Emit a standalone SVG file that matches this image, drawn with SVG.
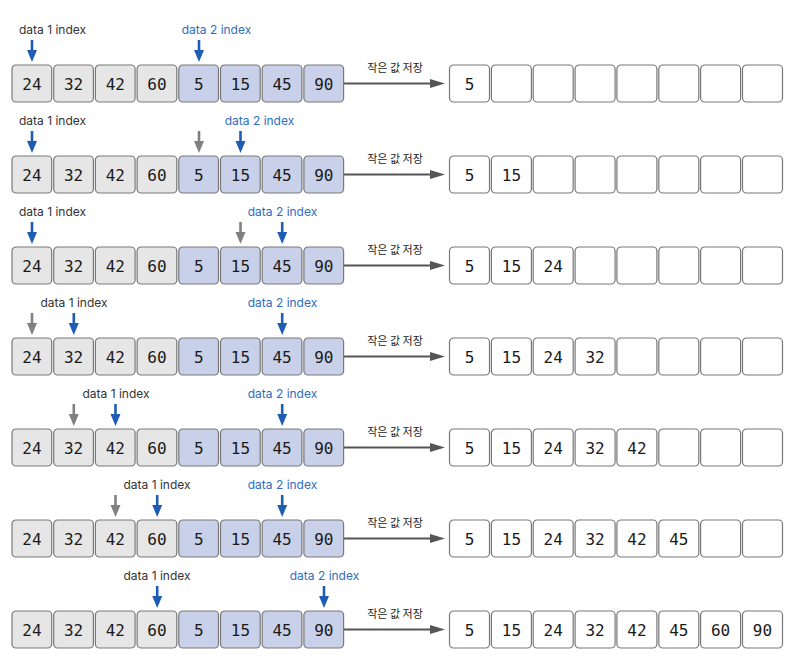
<svg xmlns="http://www.w3.org/2000/svg" xmlns:xlink="http://www.w3.org/1999/xlink" width="802" height="666" viewBox="0 0 802 666">
<style>
.g{fill:#e6e6e6;stroke:#787878;stroke-width:1.2}
.b{fill:#c9d0e9;stroke:#787878;stroke-width:1.2}
.w{fill:#ffffff;stroke:#787878;stroke-width:1.2}
.n{font-family:"DejaVu Sans Mono",monospace;font-size:16px;fill:#1a1a1a;text-anchor:middle}
.l1{font-family:"Inter","Noto Sans",sans-serif;font-size:12px;fill:#333;text-anchor:middle}
.l2{font-family:"Inter","Noto Sans",sans-serif;font-size:12px;fill:#2f6bc2;text-anchor:middle}
.k{font-family:"Noto Sans CJK KR","Noto Sans",sans-serif;font-size:11px;fill:#222;text-anchor:middle}
.ml{stroke:#555;stroke-width:2;fill:none}
.mh{fill:#555}
.ba{fill:#1f5db5}
.ga{fill:#808080}
</style>
<defs>
<path id="arr" d="M-1.3,0 H1.3 V10 H5 L0,22 L-5,10 H-1.3 Z"/>
<g id="flow">
<line class="ml" x1="344" y1="0" x2="432" y2="0"/>
<polygon class="mh" points="430,-4.5 445,0 430,4.5"/>
</g>
</defs>

<!-- connectors -->
<g id="connectors">
<g transform="translate(0,83.5)"><use xlink:href="#flow"/></g>
<g transform="translate(0,174.5)"><use xlink:href="#flow"/></g>
<g transform="translate(0,265.5)"><use xlink:href="#flow"/></g>
<g transform="translate(0,356.5)"><use xlink:href="#flow"/></g>
<g transform="translate(0,447.5)"><use xlink:href="#flow"/></g>
<g transform="translate(0,538.5)"><use xlink:href="#flow"/></g>
<g transform="translate(0,629.5)"><use xlink:href="#flow"/></g>
</g>

<g id="flow-labels">
<text class="k" x="395" y="72">작은 값 저장</text>
<text class="k" x="395" y="163">작은 값 저장</text>
<text class="k" x="395" y="254">작은 값 저장</text>
<text class="k" x="395" y="345">작은 값 저장</text>
<text class="k" x="395" y="436">작은 값 저장</text>
<text class="k" x="395" y="527">작은 값 저장</text>
<text class="k" x="395" y="618">작은 값 저장</text>
</g>

<!-- pointers -->
<g id="pointers">
<!-- row 1 -->
<use xlink:href="#arr" class="ba" x="32" y="40"/>
<use xlink:href="#arr" class="ba" x="199" y="40"/>
<text class="l1" x="52.5" y="34">data 1 index</text>
<text class="l2" x="216.5" y="34">data 2 index</text>
<!-- row 2 -->
<use xlink:href="#arr" class="ba" x="32" y="131"/>
<use xlink:href="#arr" class="ga" x="199" y="131"/>
<use xlink:href="#arr" class="ba" x="240.5" y="131"/>
<text class="l1" x="52.5" y="125">data 1 index</text>
<text class="l2" x="259.5" y="125">data 2 index</text>
<!-- row 3 -->
<use xlink:href="#arr" class="ba" x="32" y="222"/>
<use xlink:href="#arr" class="ga" x="240.5" y="222"/>
<use xlink:href="#arr" class="ba" x="282.2" y="222"/>
<text class="l1" x="52.5" y="216">data 1 index</text>
<text class="l2" x="282.5" y="216">data 2 index</text>
<!-- row 4 -->
<use xlink:href="#arr" class="ga" x="32" y="313"/>
<use xlink:href="#arr" class="ba" x="73.8" y="313"/>
<use xlink:href="#arr" class="ba" x="282.2" y="313"/>
<text class="l1" x="74" y="307">data 1 index</text>
<text class="l2" x="282.5" y="307">data 2 index</text>
<!-- row 5 -->
<use xlink:href="#arr" class="ga" x="73.8" y="404"/>
<use xlink:href="#arr" class="ba" x="115.5" y="404"/>
<use xlink:href="#arr" class="ba" x="282.2" y="404"/>
<text class="l1" x="116" y="398">data 1 index</text>
<text class="l2" x="282.5" y="398">data 2 index</text>
<!-- row 6 -->
<use xlink:href="#arr" class="ga" x="115.5" y="495"/>
<use xlink:href="#arr" class="ba" x="157.2" y="495"/>
<use xlink:href="#arr" class="ba" x="282.2" y="495"/>
<text class="l1" x="157" y="489">data 1 index</text>
<text class="l2" x="282.5" y="489">data 2 index</text>
<!-- row 7 -->
<use xlink:href="#arr" class="ba" x="157.2" y="586"/>
<use xlink:href="#arr" class="ba" x="324" y="586"/>
<text class="l1" x="157" y="580">data 1 index</text>
<text class="l2" x="324.5" y="580">data 2 index</text>
</g>

<!-- rows of nodes -->
<g id="row1" transform="translate(0,65)">
<g id="r1-in">
<g id="r1a0"><rect class="g" x="12" y="0" width="39.7" height="37" rx="4"/><text class="n" x="31.9" y="24.8">24</text></g>
<g id="r1a1"><rect class="g" x="53.7" y="0" width="39.7" height="37" rx="4"/><text class="n" x="73.6" y="24.8">32</text></g>
<g id="r1a2"><rect class="g" x="95.4" y="0" width="39.7" height="37" rx="4"/><text class="n" x="115.3" y="24.8">42</text></g>
<g id="r1a3"><rect class="g" x="137.1" y="0" width="39.7" height="37" rx="4"/><text class="n" x="157" y="24.8">60</text></g>
<g id="r1a4"><rect class="b" x="178.8" y="0" width="39.7" height="37" rx="4"/><text class="n" x="198.7" y="24.8">5</text></g>
<g id="r1a5"><rect class="b" x="220.5" y="0" width="39.7" height="37" rx="4"/><text class="n" x="240.4" y="24.8">15</text></g>
<g id="r1a6"><rect class="b" x="262.2" y="0" width="39.7" height="37" rx="4"/><text class="n" x="282.1" y="24.8">45</text></g>
<g id="r1a7"><rect class="b" x="303.9" y="0" width="39.7" height="37" rx="4"/><text class="n" x="323.8" y="24.8">90</text></g>
</g>
<g id="r1-out">
<g id="r1o0"><rect class="w" x="449.5" y="0" width="40" height="37" rx="4"/><text class="n" x="469.5" y="24.8">5</text></g>
<g id="r1o1"><rect class="w" x="491.4" y="0" width="40" height="37" rx="4"/></g>
<g id="r1o2"><rect class="w" x="533.2" y="0" width="40" height="37" rx="4"/></g>
<g id="r1o3"><rect class="w" x="575.1" y="0" width="40" height="37" rx="4"/></g>
<g id="r1o4"><rect class="w" x="616.9" y="0" width="40" height="37" rx="4"/></g>
<g id="r1o5"><rect class="w" x="658.8" y="0" width="40" height="37" rx="4"/></g>
<g id="r1o6"><rect class="w" x="700.6" y="0" width="40" height="37" rx="4"/></g>
<g id="r1o7"><rect class="w" x="742.5" y="0" width="40" height="37" rx="4"/></g>
</g>
</g>

<g id="row2" transform="translate(0,156)">
<g id="r2-in">
<g id="r2a0"><rect class="g" x="12" y="0" width="39.7" height="37" rx="4"/><text class="n" x="31.9" y="24.8">24</text></g>
<g id="r2a1"><rect class="g" x="53.7" y="0" width="39.7" height="37" rx="4"/><text class="n" x="73.6" y="24.8">32</text></g>
<g id="r2a2"><rect class="g" x="95.4" y="0" width="39.7" height="37" rx="4"/><text class="n" x="115.3" y="24.8">42</text></g>
<g id="r2a3"><rect class="g" x="137.1" y="0" width="39.7" height="37" rx="4"/><text class="n" x="157" y="24.8">60</text></g>
<g id="r2a4"><rect class="b" x="178.8" y="0" width="39.7" height="37" rx="4"/><text class="n" x="198.7" y="24.8">5</text></g>
<g id="r2a5"><rect class="b" x="220.5" y="0" width="39.7" height="37" rx="4"/><text class="n" x="240.4" y="24.8">15</text></g>
<g id="r2a6"><rect class="b" x="262.2" y="0" width="39.7" height="37" rx="4"/><text class="n" x="282.1" y="24.8">45</text></g>
<g id="r2a7"><rect class="b" x="303.9" y="0" width="39.7" height="37" rx="4"/><text class="n" x="323.8" y="24.8">90</text></g>
</g>
<g id="r2-out">
<g id="r2o0"><rect class="w" x="449.5" y="0" width="40" height="37" rx="4"/><text class="n" x="469.5" y="24.8">5</text></g>
<g id="r2o1"><rect class="w" x="491.4" y="0" width="40" height="37" rx="4"/><text class="n" x="511.4" y="24.8">15</text></g>
<g id="r2o2"><rect class="w" x="533.2" y="0" width="40" height="37" rx="4"/></g>
<g id="r2o3"><rect class="w" x="575.1" y="0" width="40" height="37" rx="4"/></g>
<g id="r2o4"><rect class="w" x="616.9" y="0" width="40" height="37" rx="4"/></g>
<g id="r2o5"><rect class="w" x="658.8" y="0" width="40" height="37" rx="4"/></g>
<g id="r2o6"><rect class="w" x="700.6" y="0" width="40" height="37" rx="4"/></g>
<g id="r2o7"><rect class="w" x="742.5" y="0" width="40" height="37" rx="4"/></g>
</g>
</g>

<g id="row3" transform="translate(0,247)">
<g id="r3-in">
<g id="r3a0"><rect class="g" x="12" y="0" width="39.7" height="37" rx="4"/><text class="n" x="31.9" y="24.8">24</text></g>
<g id="r3a1"><rect class="g" x="53.7" y="0" width="39.7" height="37" rx="4"/><text class="n" x="73.6" y="24.8">32</text></g>
<g id="r3a2"><rect class="g" x="95.4" y="0" width="39.7" height="37" rx="4"/><text class="n" x="115.3" y="24.8">42</text></g>
<g id="r3a3"><rect class="g" x="137.1" y="0" width="39.7" height="37" rx="4"/><text class="n" x="157" y="24.8">60</text></g>
<g id="r3a4"><rect class="b" x="178.8" y="0" width="39.7" height="37" rx="4"/><text class="n" x="198.7" y="24.8">5</text></g>
<g id="r3a5"><rect class="b" x="220.5" y="0" width="39.7" height="37" rx="4"/><text class="n" x="240.4" y="24.8">15</text></g>
<g id="r3a6"><rect class="b" x="262.2" y="0" width="39.7" height="37" rx="4"/><text class="n" x="282.1" y="24.8">45</text></g>
<g id="r3a7"><rect class="b" x="303.9" y="0" width="39.7" height="37" rx="4"/><text class="n" x="323.8" y="24.8">90</text></g>
</g>
<g id="r3-out">
<g id="r3o0"><rect class="w" x="449.5" y="0" width="40" height="37" rx="4"/><text class="n" x="469.5" y="24.8">5</text></g>
<g id="r3o1"><rect class="w" x="491.4" y="0" width="40" height="37" rx="4"/><text class="n" x="511.4" y="24.8">15</text></g>
<g id="r3o2"><rect class="w" x="533.2" y="0" width="40" height="37" rx="4"/><text class="n" x="553.2" y="24.8">24</text></g>
<g id="r3o3"><rect class="w" x="575.1" y="0" width="40" height="37" rx="4"/></g>
<g id="r3o4"><rect class="w" x="616.9" y="0" width="40" height="37" rx="4"/></g>
<g id="r3o5"><rect class="w" x="658.8" y="0" width="40" height="37" rx="4"/></g>
<g id="r3o6"><rect class="w" x="700.6" y="0" width="40" height="37" rx="4"/></g>
<g id="r3o7"><rect class="w" x="742.5" y="0" width="40" height="37" rx="4"/></g>
</g>
</g>

<g id="row4" transform="translate(0,338)">
<g id="r4-in">
<g id="r4a0"><rect class="g" x="12" y="0" width="39.7" height="37" rx="4"/><text class="n" x="31.9" y="24.8">24</text></g>
<g id="r4a1"><rect class="g" x="53.7" y="0" width="39.7" height="37" rx="4"/><text class="n" x="73.6" y="24.8">32</text></g>
<g id="r4a2"><rect class="g" x="95.4" y="0" width="39.7" height="37" rx="4"/><text class="n" x="115.3" y="24.8">42</text></g>
<g id="r4a3"><rect class="g" x="137.1" y="0" width="39.7" height="37" rx="4"/><text class="n" x="157" y="24.8">60</text></g>
<g id="r4a4"><rect class="b" x="178.8" y="0" width="39.7" height="37" rx="4"/><text class="n" x="198.7" y="24.8">5</text></g>
<g id="r4a5"><rect class="b" x="220.5" y="0" width="39.7" height="37" rx="4"/><text class="n" x="240.4" y="24.8">15</text></g>
<g id="r4a6"><rect class="b" x="262.2" y="0" width="39.7" height="37" rx="4"/><text class="n" x="282.1" y="24.8">45</text></g>
<g id="r4a7"><rect class="b" x="303.9" y="0" width="39.7" height="37" rx="4"/><text class="n" x="323.8" y="24.8">90</text></g>
</g>
<g id="r4-out">
<g id="r4o0"><rect class="w" x="449.5" y="0" width="40" height="37" rx="4"/><text class="n" x="469.5" y="24.8">5</text></g>
<g id="r4o1"><rect class="w" x="491.4" y="0" width="40" height="37" rx="4"/><text class="n" x="511.4" y="24.8">15</text></g>
<g id="r4o2"><rect class="w" x="533.2" y="0" width="40" height="37" rx="4"/><text class="n" x="553.2" y="24.8">24</text></g>
<g id="r4o3"><rect class="w" x="575.1" y="0" width="40" height="37" rx="4"/><text class="n" x="595.1" y="24.8">32</text></g>
<g id="r4o4"><rect class="w" x="616.9" y="0" width="40" height="37" rx="4"/></g>
<g id="r4o5"><rect class="w" x="658.8" y="0" width="40" height="37" rx="4"/></g>
<g id="r4o6"><rect class="w" x="700.6" y="0" width="40" height="37" rx="4"/></g>
<g id="r4o7"><rect class="w" x="742.5" y="0" width="40" height="37" rx="4"/></g>
</g>
</g>

<g id="row5" transform="translate(0,429)">
<g id="r5-in">
<g id="r5a0"><rect class="g" x="12" y="0" width="39.7" height="37" rx="4"/><text class="n" x="31.9" y="24.8">24</text></g>
<g id="r5a1"><rect class="g" x="53.7" y="0" width="39.7" height="37" rx="4"/><text class="n" x="73.6" y="24.8">32</text></g>
<g id="r5a2"><rect class="g" x="95.4" y="0" width="39.7" height="37" rx="4"/><text class="n" x="115.3" y="24.8">42</text></g>
<g id="r5a3"><rect class="g" x="137.1" y="0" width="39.7" height="37" rx="4"/><text class="n" x="157" y="24.8">60</text></g>
<g id="r5a4"><rect class="b" x="178.8" y="0" width="39.7" height="37" rx="4"/><text class="n" x="198.7" y="24.8">5</text></g>
<g id="r5a5"><rect class="b" x="220.5" y="0" width="39.7" height="37" rx="4"/><text class="n" x="240.4" y="24.8">15</text></g>
<g id="r5a6"><rect class="b" x="262.2" y="0" width="39.7" height="37" rx="4"/><text class="n" x="282.1" y="24.8">45</text></g>
<g id="r5a7"><rect class="b" x="303.9" y="0" width="39.7" height="37" rx="4"/><text class="n" x="323.8" y="24.8">90</text></g>
</g>
<g id="r5-out">
<g id="r5o0"><rect class="w" x="449.5" y="0" width="40" height="37" rx="4"/><text class="n" x="469.5" y="24.8">5</text></g>
<g id="r5o1"><rect class="w" x="491.4" y="0" width="40" height="37" rx="4"/><text class="n" x="511.4" y="24.8">15</text></g>
<g id="r5o2"><rect class="w" x="533.2" y="0" width="40" height="37" rx="4"/><text class="n" x="553.2" y="24.8">24</text></g>
<g id="r5o3"><rect class="w" x="575.1" y="0" width="40" height="37" rx="4"/><text class="n" x="595.1" y="24.8">32</text></g>
<g id="r5o4"><rect class="w" x="616.9" y="0" width="40" height="37" rx="4"/><text class="n" x="636.9" y="24.8">42</text></g>
<g id="r5o5"><rect class="w" x="658.8" y="0" width="40" height="37" rx="4"/></g>
<g id="r5o6"><rect class="w" x="700.6" y="0" width="40" height="37" rx="4"/></g>
<g id="r5o7"><rect class="w" x="742.5" y="0" width="40" height="37" rx="4"/></g>
</g>
</g>

<g id="row6" transform="translate(0,520)">
<g id="r6-in">
<g id="r6a0"><rect class="g" x="12" y="0" width="39.7" height="37" rx="4"/><text class="n" x="31.9" y="24.8">24</text></g>
<g id="r6a1"><rect class="g" x="53.7" y="0" width="39.7" height="37" rx="4"/><text class="n" x="73.6" y="24.8">32</text></g>
<g id="r6a2"><rect class="g" x="95.4" y="0" width="39.7" height="37" rx="4"/><text class="n" x="115.3" y="24.8">42</text></g>
<g id="r6a3"><rect class="g" x="137.1" y="0" width="39.7" height="37" rx="4"/><text class="n" x="157" y="24.8">60</text></g>
<g id="r6a4"><rect class="b" x="178.8" y="0" width="39.7" height="37" rx="4"/><text class="n" x="198.7" y="24.8">5</text></g>
<g id="r6a5"><rect class="b" x="220.5" y="0" width="39.7" height="37" rx="4"/><text class="n" x="240.4" y="24.8">15</text></g>
<g id="r6a6"><rect class="b" x="262.2" y="0" width="39.7" height="37" rx="4"/><text class="n" x="282.1" y="24.8">45</text></g>
<g id="r6a7"><rect class="b" x="303.9" y="0" width="39.7" height="37" rx="4"/><text class="n" x="323.8" y="24.8">90</text></g>
</g>
<g id="r6-out">
<g id="r6o0"><rect class="w" x="449.5" y="0" width="40" height="37" rx="4"/><text class="n" x="469.5" y="24.8">5</text></g>
<g id="r6o1"><rect class="w" x="491.4" y="0" width="40" height="37" rx="4"/><text class="n" x="511.4" y="24.8">15</text></g>
<g id="r6o2"><rect class="w" x="533.2" y="0" width="40" height="37" rx="4"/><text class="n" x="553.2" y="24.8">24</text></g>
<g id="r6o3"><rect class="w" x="575.1" y="0" width="40" height="37" rx="4"/><text class="n" x="595.1" y="24.8">32</text></g>
<g id="r6o4"><rect class="w" x="616.9" y="0" width="40" height="37" rx="4"/><text class="n" x="636.9" y="24.8">42</text></g>
<g id="r6o5"><rect class="w" x="658.8" y="0" width="40" height="37" rx="4"/><text class="n" x="678.8" y="24.8">45</text></g>
<g id="r6o6"><rect class="w" x="700.6" y="0" width="40" height="37" rx="4"/></g>
<g id="r6o7"><rect class="w" x="742.5" y="0" width="40" height="37" rx="4"/></g>
</g>
</g>

<g id="row7" transform="translate(0,611)">
<g id="r7-in">
<g id="r7a0"><rect class="g" x="12" y="0" width="39.7" height="37" rx="4"/><text class="n" x="31.9" y="24.8">24</text></g>
<g id="r7a1"><rect class="g" x="53.7" y="0" width="39.7" height="37" rx="4"/><text class="n" x="73.6" y="24.8">32</text></g>
<g id="r7a2"><rect class="g" x="95.4" y="0" width="39.7" height="37" rx="4"/><text class="n" x="115.3" y="24.8">42</text></g>
<g id="r7a3"><rect class="g" x="137.1" y="0" width="39.7" height="37" rx="4"/><text class="n" x="157" y="24.8">60</text></g>
<g id="r7a4"><rect class="b" x="178.8" y="0" width="39.7" height="37" rx="4"/><text class="n" x="198.7" y="24.8">5</text></g>
<g id="r7a5"><rect class="b" x="220.5" y="0" width="39.7" height="37" rx="4"/><text class="n" x="240.4" y="24.8">15</text></g>
<g id="r7a6"><rect class="b" x="262.2" y="0" width="39.7" height="37" rx="4"/><text class="n" x="282.1" y="24.8">45</text></g>
<g id="r7a7"><rect class="b" x="303.9" y="0" width="39.7" height="37" rx="4"/><text class="n" x="323.8" y="24.8">90</text></g>
</g>
<g id="r7-out">
<g id="r7o0"><rect class="w" x="449.5" y="0" width="40" height="37" rx="4"/><text class="n" x="469.5" y="24.8">5</text></g>
<g id="r7o1"><rect class="w" x="491.4" y="0" width="40" height="37" rx="4"/><text class="n" x="511.4" y="24.8">15</text></g>
<g id="r7o2"><rect class="w" x="533.2" y="0" width="40" height="37" rx="4"/><text class="n" x="553.2" y="24.8">24</text></g>
<g id="r7o3"><rect class="w" x="575.1" y="0" width="40" height="37" rx="4"/><text class="n" x="595.1" y="24.8">32</text></g>
<g id="r7o4"><rect class="w" x="616.9" y="0" width="40" height="37" rx="4"/><text class="n" x="636.9" y="24.8">42</text></g>
<g id="r7o5"><rect class="w" x="658.8" y="0" width="40" height="37" rx="4"/><text class="n" x="678.8" y="24.8">45</text></g>
<g id="r7o6"><rect class="w" x="700.6" y="0" width="40" height="37" rx="4"/><text class="n" x="720.6" y="24.8">60</text></g>
<g id="r7o7"><rect class="w" x="742.5" y="0" width="40" height="37" rx="4"/><text class="n" x="762.5" y="24.8">90</text></g>
</g>
</g>
</svg>
